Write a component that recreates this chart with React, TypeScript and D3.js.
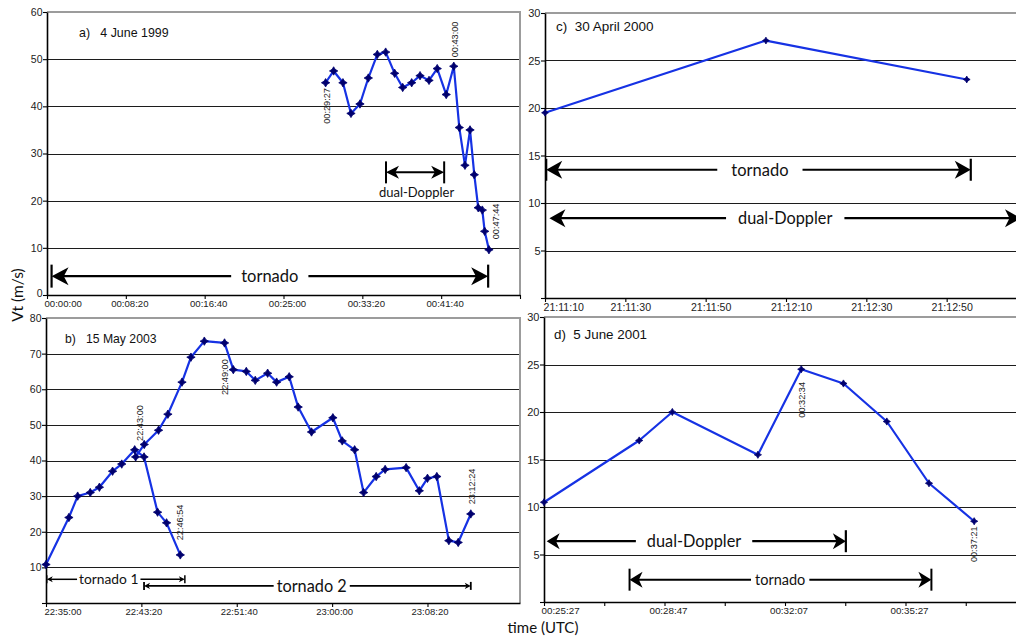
import React, { useEffect, useRef } from "react";
import * as d3 from "d3";

const W = 1016;
const H = 637;

// a) 4 June 1999 -- seconds after 00:00:00
const aTime = [1767, 1818, 1877, 1928, 1985, 2038, 2095, 2148, 2205, 2256, 2313, 2366, 2423, 2475, 2532, 2580, 2615, 2651, 2683, 2710, 2735, 2761, 2776, 2803];
const aVt = [45, 47.5, 45, 38.5, 40.5, 46, 51, 51.5, 47, 44, 45, 46.5, 45.5, 48, 42.5, 48.5, 35.5, 27.5, 35, 25.5, 18.5, 18, 13.5, 9.6];

// b) 15 May 2003 -- seconds after 22:35:00 (tornado 1, tornado 2)
const bTime1 = [0, 120, 166, 232, 280, 349, 397, 465, 514, 585, 632, 704];
const bVt1 = [10.8, 24, 30, 31, 32.5, 37, 39, 43, 41, 25.5, 22.5, 13.5];
const bTime2 = [470, 515, 590, 639, 713, 760, 830, 936, 982, 1050, 1097, 1162, 1209, 1275, 1322, 1392, 1504, 1553, 1618, 1665, 1731, 1778, 1888, 1957, 2000, 2049, 2112, 2161, 2227];
const bVt2 = [41, 44.5, 48.5, 53, 62, 69, 73.5, 73, 65.5, 65, 62.5, 64.5, 62, 63.5, 55, 48, 52, 45.5, 43, 31, 35.5, 37.5, 38, 31.5, 35, 35.5, 17.5, 17, 25];

// c) 30 April 2000 -- seconds after 21:11:10
const cTime = [0, 55, 105];
const cVt = [19.5, 27.1, 23];

// d) 5 June 2001 -- seconds after 00:25:27
const dTime = [0, 158, 213, 355, 427, 497, 569, 639, 714];
const dVt = [10.5, 17, 20, 15.5, 24.5, 23, 19, 12.5, 8.5];

// tick values / labels
const aTickSec = [0, 500, 1000, 1500, 2000, 2500, 3000];
const aTickLabels = ["00:00:00", "00:08:20", "00:16:40", "00:25:00", "00:33:20", "00:41:40", ""];
const bTickSec = [0, 500, 1000, 1500, 2000];
const bTickLabels = ["22:35:00", "22:43:20", "22:51:40", "23:00:00", "23:08:20"];
const cTickSec = [0, 20, 40, 60, 80, 100];
const cTickLabels = ["21:11:10", "21:11:30", "21:11:50", "21:12:10", "21:12:30", "21:12:50"];
const dTickSec = [0, 100, 200, 300, 400, 500, 600, 700];
const dTickLabels = ["00:25:27", "", "00:28:47", "", "00:32:07", "", "00:35:27", ""];

const aYTicks = [0, 10, 20, 30, 40, 50, 60];
const aYLabels = ["0", "10", "20", "30", "40", "50", "60"];
const bYTicks = [0, 10, 20, 30, 40, 50, 60, 70, 80];
const bYLabels = ["", "10", "20", "30", "40", "50", "60", "70", "80"];
const cdYTicks = [0, 5, 10, 15, 20, 25, 30];
const cdYLabels = ["", "5", "10", "15", "20", "25", "30"];

// time stamps written next to points
const stampText = ["00:29:27", "00:43:00", "00:47:44", "22:43:00", "22:49:00", "22:46:54", "23:12:24", "00:32:34", "00:37:21"];
const stampPanel = ["a", "a", "a", "b", "b", "b", "b", "d", "d"];
const stampTime = [1774, 2588, 2846, 493, 938, 702, 2231, 428.6, 713.8];
const stampVt = [36.3, 50.4, 11.8, 45.5, 58.4, 17.6, 27.7, 19.4, 4.2];

// tornado / dual-Doppler periods
const spanLabel = ["tornado", "dual-Doppler", "tornado 1", "tornado 2", "tornado", "dual-Doppler", "dual-Doppler", "tornado"];
const spanPanel = ["a", "a", "b", "b", "c", "c", "d", "d"];
const spanStart = [29, 2150, 4, 514, 0.3, 1.1, 4.4, 142];
const spanEnd = [2798, 2519, 728, 2227, 106, 118.5, 501, 643];
const spanVt = [4, 26, 6.65, 4.8, 13.5, 8.4, 6.4, 2.35];
const spanTextTime = [1413, 2344, 329, 1393, 53.5, 59.8, 249, 392];
const spanTextVt = [4, 21.7, 6.65, 4.8, 13.5, 8.4, 6.4, 2.35];
const spanCaps = [[true, true], [true, true], [true, true], [true, true], [true, true], [false, false], [false, true], [true, true]];

const spanStyle = [
  { font: 16.5, lw: 2.2, L: 17, w: 9, cap: 23, gap: 10 },
  { font: 13, lw: 2, L: 13, w: 6.5, cap: 22, gap: 0 },
  { font: 13.8, lw: 1.5, L: 6, w: 3, cap: 8, gap: 2 },
  { font: 16.3, lw: 1.8, L: 6, w: 3.2, cap: 8, gap: 3 },
  { font: 16.5, lw: 2.2, L: 16, w: 9, cap: 22, gap: 14 },
  { font: 16.3, lw: 2.2, L: 16, w: 9, cap: 0, gap: 12 },
  { font: 16.3, lw: 2.2, L: 13, w: 8, cap: 22, gap: 11 },
  { font: 14.5, lw: 2, L: 13, w: 8, cap: 22, gap: 4 },
];

const LINE = "#1632e4";
const MARK = "#00006e";
const ANN_FONT = "Lato, 'Open Sans', sans-serif";
const TICK_FONT = "'Liberation Sans', Arial, Helvetica, sans-serif";

const panels = [
  {
    id: "a", title: "a)   4 June 1999", left: 47, right: 520, top: 12, bottom: 295, xMax: 3000, yMax: 60,
    xTicks: aTickSec, xLabels: aTickLabels, yTicks: aYTicks, yLabels: aYLabels, series: [[aTime, aVt]],
    tickFont: 9.6, yFont: 10.5, firstDx: -3, dx: 3.5, titleFont: 12.4, titleX: 32, titleY: 25, frameRight: true, marker: 4.2,
  },
  {
    id: "b", title: "b)   15 May 2003", left: 46, right: 520, top: 318, bottom: 603, xMax: 2485, yMax: 80,
    xTicks: bTickSec, xLabels: bTickLabels, yTicks: bYTicks, yLabels: bYLabels, series: [[bTime1, bVt1], [bTime2, bVt2]],
    tickFont: 9.5, yFont: 10.5, firstDx: -2, dx: 2, titleFont: 12.2, titleX: 19, titleY: 24.5, frameRight: true, marker: 4.2,
  },
  {
    id: "c", title: "c)  30 April 2000", left: 545, right: 1027, top: 13, bottom: 298, xMax: 120, yMax: 30,
    xTicks: cTickSec, xLabels: cTickLabels, yTicks: cdYTicks, yLabels: cdYLabels, series: [[cTime, cVt]],
    tickFont: 10.6, yFont: 11, firstDx: -2, dx: 5, titleFont: 13.5, titleX: 11, titleY: 17.5, frameRight: false, marker: 3.4,
  },
  {
    id: "d", title: "d)  5 June 2001", left: 544, right: 1026, top: 317, bottom: 602, xMax: 800, yMax: 30,
    xTicks: dTickSec, xLabels: dTickLabels, yTicks: cdYTicks, yLabels: cdYLabels, series: [[dTime, dVt]],
    tickFont: 9.8, yFont: 11, firstDx: -3, dx: 3.5, titleFont: 13.4, titleX: 10, titleY: 22, frameRight: false, marker: 3.6,
  },
];

function arrowHead(x: number, y: number, dir: number, L: number, w: number) {
  return `M${x},${y}L${x - dir * L},${y - w}L${x - dir * L * 0.72},${y}L${x - dir * L},${y + w}Z`;
}

// small rounded diamond marker
function marker(r: number) {
  return `M0,${-r}Q${r * 0.25},${-r * 0.25} ${r},0Q${r * 0.25},${r * 0.25} 0,${r}Q${-r * 0.25},${r * 0.25} ${-r},0Q${-r * 0.25},${-r * 0.25} 0,${-r}Z`;
}

function drawPanel(root: any, p: any) {
  const g = root.append("g");
  const x = d3.scaleLinear().domain([0, p.xMax]).range([p.left, p.right]);
  const y = d3.scaleLinear().domain([0, p.yMax]).range([p.bottom, p.top]);
  const edge = Math.min(p.right, W);

  // gridlines
  g.append("g")
    .selectAll("line")
    .data(p.yTicks.filter((v: number) => v > 0 && v < p.yMax))
    .join("line")
    .attr("x1", p.left)
    .attr("x2", edge)
    .attr("y1", (d: number) => Math.round(y(d)) + 0.5)
    .attr("y2", (d: number) => Math.round(y(d)) + 0.5)
    .attr("stroke", "#1c1c1c")
    .attr("stroke-width", 1);

  // grey frame (top + right)
  g.append("path")
    .attr("d", `M${p.left},${p.top}H${p.right}` + (p.frameRight ? `V${p.bottom}` : ""))
    .attr("fill", "none")
    .attr("stroke", "#9c9c9c")
    .attr("stroke-width", 2);

  // x axis
  const gx = g
    .append("g")
    .attr("transform", `translate(0,${p.bottom})`)
    .call(
      d3.axisBottom(x)
        .tickValues(p.xTicks)
        .tickFormat((d: any, i: number) => p.xLabels[i])
        .tickSize(4)
        .tickSizeOuter(0)
        .tickPadding(1)
    );
  gx.select(".domain").attr("stroke", "#000").attr("stroke-width", 1.6);
  gx.selectAll(".tick line").attr("stroke", "#000").attr("stroke-width", 1.1);
  gx.selectAll(".tick text")
    .attr("fill", "#222")
    .attr("font-family", TICK_FONT)
    .attr("font-size", p.tickFont)
    .attr("text-anchor", (d: any, i: number) => (i === 0 ? "start" : "middle"))
    .attr("dx", (d: any, i: number) => (i === 0 ? p.firstDx : p.dx));

  // y axis
  const gy = g
    .append("g")
    .attr("transform", `translate(${p.left},0)`)
    .call(
      d3.axisLeft(y)
        .tickValues(p.yTicks)
        .tickFormat((d: any, i: number) => p.yLabels[i])
        .tickSize(4)
        .tickSizeOuter(0)
        .tickPadding(0.5)
    );
  gy.select(".domain").attr("stroke", "#000").attr("stroke-width", 1.6);
  gy.selectAll(".tick line").attr("stroke", "#000").attr("stroke-width", 1.1);
  gy.selectAll(".tick text")
    .attr("fill", "#222")
    .attr("font-family", TICK_FONT)
    .attr("font-size", p.yFont)
    .attr("dy", (d: number) => (d === 0 ? "0.1em" : "0.32em"));

  // title
  g.append("text")
    .attr("x", p.left + p.titleX)
    .attr("y", p.top + p.titleY)
    .attr("font-family", TICK_FONT)
    .attr("font-size", p.titleFont)
    .attr("fill", "#111")
    .style("white-space", "pre")
    .text(p.title);

  // series
  p.series.forEach((s: number[][]) => {
    const pts = s[0].map((t: number, i: number) => [t, s[1][i]]);
    g.append("path")
      .datum(pts)
      .attr("fill", "none")
      .attr("stroke", LINE)
      .attr("stroke-width", 2.2)
      .attr("stroke-linejoin", "round")
      .attr(
        "d",
        d3.line()
          .x((d: any) => x(d[0]))
          .y((d: any) => y(d[1]))
      );
    g.append("g")
      .selectAll("path")
      .data(pts)
      .join("path")
      .attr("transform", (d: any) => `translate(${x(d[0])},${y(d[1])})`)
      .attr("d", marker(p.marker))
      .attr("fill", MARK)
      .attr("stroke", MARK)
      .attr("stroke-width", 0.8);
  });

  // time stamps
  stampText.forEach((txt, i) => {
    if (stampPanel[i] !== p.id) return;
    g.append("text")
      .attr("transform", `translate(${x(stampTime[i])},${y(stampVt[i])}) rotate(-90)`)
      .attr("dy", "0.35em")
      .attr("font-family", TICK_FONT)
      .attr("font-size", 9.2)
      .attr("fill", "#222")
      .text(txt);
  });

  // period arrows
  spanLabel.forEach((lab, i) => {
    if (spanPanel[i] !== p.id) return;
    const st = spanStyle[i];
    const x0 = x(spanStart[i]);
    const x1 = x(spanEnd[i]);
    const yy = y(spanVt[i]);
    const tx = x(spanTextTime[i]);
    const ty = y(spanTextVt[i]);
    const a = g.append("g");
    const t = a
      .append("text")
      .attr("x", tx)
      .attr("y", ty)
      .attr("dy", "0.36em")
      .attr("text-anchor", "middle")
      .attr("font-family", ANN_FONT)
      .attr("font-size", st.font)
      .attr("fill", "#111")
      .text(lab);
    const bb = (t.node() as SVGTextElement).getBBox();
    const segs =
      spanTextVt[i] !== spanVt[i]
        ? [[x0 + st.L * 0.6, x1 - st.L * 0.6]]
        : [
            [x0 + st.L * 0.6, bb.x - st.gap],
            [bb.x + bb.width + st.gap, x1 - st.L * 0.6],
          ];
    segs.forEach((sg) => {
      a.append("line")
        .attr("x1", sg[0])
        .attr("x2", sg[1])
        .attr("y1", yy)
        .attr("y2", yy)
        .attr("stroke", "#000")
        .attr("stroke-width", st.lw);
    });
    a.append("path").attr("d", arrowHead(x0, yy, -1, st.L, st.w)).attr("fill", "#000");
    a.append("path").attr("d", arrowHead(x1, yy, 1, st.L, st.w)).attr("fill", "#000");
    [x0, x1].forEach((cx, k) => {
      if (!spanCaps[i][k]) return;
      a.append("line")
        .attr("x1", cx)
        .attr("x2", cx)
        .attr("y1", yy - st.cap / 2)
        .attr("y2", yy + st.cap / 2)
        .attr("stroke", "#000")
        .attr("stroke-width", st.lw);
    });
  });
}

function Chart() {
  const svgRef: any = useRef(null);

  useEffect(() => {
    const svg = d3.select(svgRef.current);
    svg.selectAll("*").remove();
    svg.append("rect").attr("width", W).attr("height", H).attr("fill", "#fff");
    panels.forEach((p) => drawPanel(svg, p));

    // shared axis titles
    svg
      .append("text")
      .attr("transform", "translate(18,295) rotate(-90)")
      .attr("dy", "0.35em")
      .attr("text-anchor", "middle")
      .attr("font-family", ANN_FONT)
      .attr("font-size", 15.5)
      .attr("fill", "#111")
      .text("Vt (m/s)");
    svg
      .append("text")
      .attr("x", 543)
      .attr("y", 633)
      .attr("text-anchor", "middle")
      .attr("font-family", ANN_FONT)
      .attr("font-size", 15)
      .attr("fill", "#111")
      .text("time (UTC)");
  }, []);

  return (
    <svg
      ref={svgRef}
      width={W}
      height={H}
      style={{ position: "absolute", left: 0, top: 0, overflow: "hidden" }}
    />
  );
}

export default function App() {
  return <Chart />;
}
